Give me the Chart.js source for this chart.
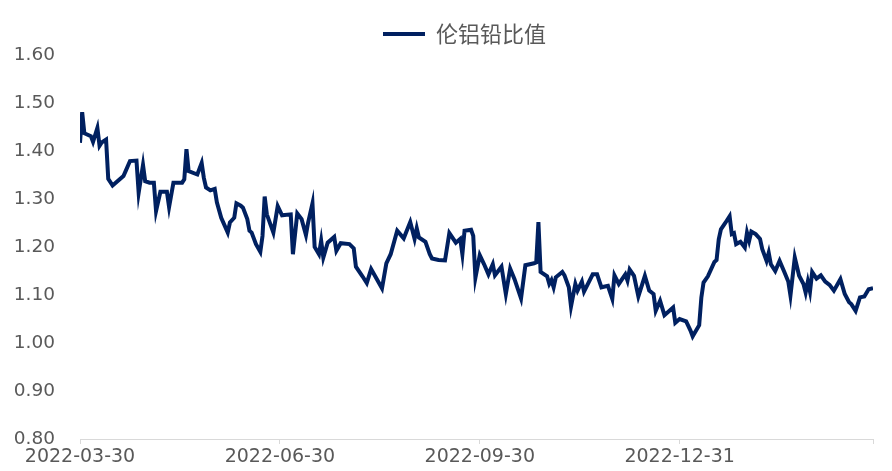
<!DOCTYPE html>
<html>
<head>
<meta charset="utf-8">
<script src="https://cdn.jsdelivr.net/npm/chart.js@4"></script>
<style>
  html, body { margin: 0; padding: 0; background: #fff; }
  #wrap { width: 892px; height: 471px; }
</style>
</head>
<body>
<div id="wrap"><canvas id="ratioChart"></canvas></div>
<script>
// days since 2022-03-30
const days = [
    0, 1, 2, 5, 6, 8, 9, 10, 12, 13, 15, 20, 21, 23, 26, 27, 29, 30, 32, 34,
    35, 37, 40, 41, 43, 47, 48, 49, 50, 54, 56, 57, 58, 60, 62, 63, 65, 68, 69, 71,
    72, 74, 75, 77, 78, 79, 81, 83, 84, 85, 86, 89, 91, 93, 97, 98, 100, 102, 104, 105,
    107, 108, 110, 111, 112, 114, 117, 118, 120, 124, 126, 127, 130, 132, 134, 136, 139, 141, 143, 146,
    149, 152, 154, 155, 156, 159, 161, 162, 165, 168, 170, 173, 175, 176, 177, 180, 181, 182, 184, 186,
    188, 190, 191, 194, 196, 198, 200, 203, 205, 209, 210, 211, 212, 215, 216, 217, 218, 219, 222, 223,
    225, 226, 228, 229, 231, 232, 236, 238, 240, 243, 245, 246, 248, 251, 252, 253, 255, 257, 260, 262,
    264, 265, 267, 269, 273, 274, 276, 279, 281, 282, 285, 286, 287, 289, 292, 293, 294, 295, 297, 299,
    300, 301, 302, 304, 306, 307, 308, 309, 311, 313, 314, 316, 317, 318, 320, 322, 324, 326, 327, 329,
    331, 333, 334, 335, 336, 337, 339, 341, 343, 345, 347, 350, 352, 354, 355, 357, 359, 361, 363, 365
];

// LME aluminium / lead price ratio
const ratio = [
    1.417, 1.481, 1.437, 1.431, 1.419, 1.448, 1.411, 1.418, 1.424, 1.342, 1.328, 1.348, 1.358, 1.379, 1.380, 1.313, 1.371, 1.337, 1.334, 1.334,
    1.275, 1.315, 1.315, 1.283, 1.334, 1.334, 1.341, 1.404, 1.358, 1.351, 1.375, 1.344, 1.324, 1.318, 1.321, 1.293, 1.261, 1.230, 1.251, 1.261,
    1.291, 1.286, 1.282, 1.258, 1.234, 1.230, 1.206, 1.190, 1.223, 1.305, 1.268, 1.230, 1.285, 1.266, 1.268, 1.185, 1.270, 1.258, 1.225, 1.251,
    1.291, 1.200, 1.185, 1.213, 1.178, 1.209, 1.221, 1.192, 1.208, 1.206, 1.197, 1.159, 1.139, 1.125, 1.154, 1.138, 1.114, 1.166, 1.185, 1.234,
    1.218, 1.252, 1.217, 1.239, 1.220, 1.211, 1.185, 1.176, 1.173, 1.172, 1.229, 1.209, 1.217, 1.185, 1.234, 1.236, 1.223, 1.136, 1.183, 1.164,
    1.143, 1.164, 1.141, 1.159, 1.102, 1.155, 1.133, 1.093, 1.162, 1.166, 1.168, 1.252, 1.148, 1.139, 1.123, 1.131, 1.116, 1.137, 1.148, 1.141,
    1.116, 1.076, 1.123, 1.109, 1.128, 1.107, 1.143, 1.143, 1.116, 1.119, 1.092, 1.141, 1.123, 1.143, 1.130, 1.153, 1.140, 1.097, 1.140, 1.109,
    1.102, 1.067, 1.088, 1.058, 1.074, 1.042, 1.050, 1.045, 1.026, 1.014, 1.037, 1.095, 1.126, 1.139, 1.169, 1.173, 1.216, 1.237, 1.250, 1.264,
    1.227, 1.229, 1.206, 1.211, 1.199, 1.230, 1.213, 1.232, 1.227, 1.217, 1.196, 1.171, 1.188, 1.164, 1.150, 1.171, 1.150, 1.128, 1.099, 1.178,
    1.140, 1.123, 1.105, 1.128, 1.107, 1.148, 1.134, 1.141, 1.128, 1.121, 1.109, 1.133, 1.102, 1.085, 1.081, 1.067, 1.095, 1.097, 1.112, 1.114
];

const tickDays = [0, 92, 184, 276, 365];
const tickLabels = ['2022-03-30', '2022-06-30', '2022-09-30', '2022-12-31', ''];

const seriesName = '伦铝铅比值';
const lineColor = '#002060';
const textColor = '#595959';
const axisColor = '#d9d9d9';

const points = days.map((d, i) => ({x: d, y: ratio[i]}));

// legend sits a little right of the canvas centre
const legendShift = {
    id: 'legendShift',
    afterLayout(chart) {
        chart.legend.left += 28;
        chart.legend.right += 28;
    },
};

const data = {
    datasets: [{
        label: seriesName,
        data: points,
        borderColor: lineColor,
        backgroundColor: lineColor,
        borderWidth: 4,
        pointRadius: 0,
        tension: 0,
    }],
};

const options = {
    responsive: true,
    maintainAspectRatio: false,
    animation: false,
    layout: {padding: {top: 12, right: 19, left: 0, bottom: 0}},
    plugins: {
        tooltip: {enabled: false},
        legend: {
            position: 'top',
            labels: {
                boxWidth: 42,
                boxHeight: 4,
                padding: 11,
                color: textColor,
                font: {family: '"Noto Sans CJK SC", sans-serif', size: 22},
                generateLabels: (chart) => Chart.defaults.plugins.legend.labels.generateLabels(chart)
                    .map(item => Object.assign(item, {lineWidth: 0, strokeStyle: lineColor})),
            },
        },
    },
    scales: {
        x: {
            type: 'linear',
            min: 0,
            max: 365,
            afterBuildTicks: (scale) => {
                scale.ticks = tickDays.map(v => ({value: v}));
            },
            afterFit: (scale) => { scale.height = 32; },
            ticks: {
                autoSkip: false,
                maxRotation: 0,
                padding: 2,
                color: textColor,
                font: {family: '"DejaVu Sans", sans-serif', size: 19},
                callback: (value) => tickLabels[tickDays.indexOf(value)] ?? '',
            },
            grid: {
                drawOnChartArea: false,
                drawTicks: true,
                tickLength: 5,
                color: axisColor,
            },
            border: {display: true, color: axisColor, width: 1},
        },
        y: {
            min: 0.8,
            max: 1.6,
            afterFit: (scale) => { scale.width = 80; },
            ticks: {
                stepSize: 0.1,
                padding: 17,
                color: textColor,
                font: {family: '"DejaVu Sans", sans-serif', size: 18.5},
                callback: (value) => value.toFixed(2),
            },
            grid: {display: false},
            border: {display: false},
        },
    },
};

new Chart(document.getElementById('ratioChart'), {type: 'line', data, options, plugins: [legendShift]});
</script>
</body>
</html>
